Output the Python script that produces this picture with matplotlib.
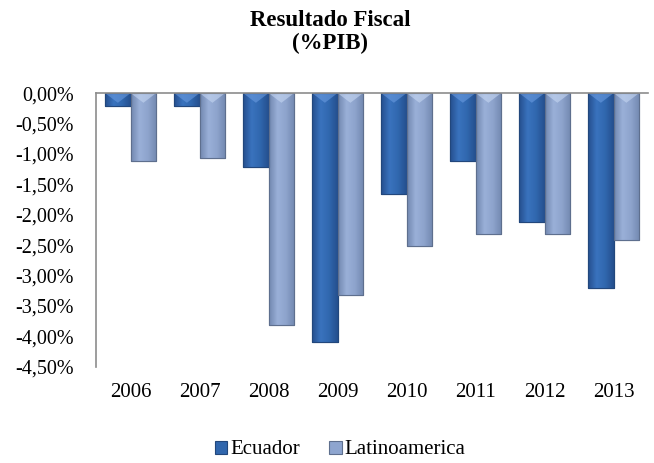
import numpy as np
import matplotlib
matplotlib.use("Agg")
import matplotlib.pyplot as plt
from matplotlib.colors import LinearSegmentedColormap
from matplotlib.patches import Polygon
from matplotlib.ticker import FuncFormatter

years = ["2006", "2007", "2008", "2009", "2010", "2011", "2012", "2013"]
ecuador = [-0.21, -0.21, -1.21, -4.10, -1.66, -1.11, -2.12, -3.21]
latam = [-1.11, -1.06, -3.81, -3.32, -2.51, -2.32, -2.32, -2.41]

plt.rcParams["font.family"] = ["Liberation Serif", "DejaVu Serif"]

fig = plt.figure(figsize=(6.54, 4.63), dpi=100)
ax = fig.add_axes([0.147, 0.208, 0.844, 0.591])

x = np.arange(len(years))
w = 0.37
b1 = ax.bar(x - w / 2, ecuador, w, color="#3066AD", edgecolor="#22477C", linewidth=0.8,
            label="Ecuador", zorder=2)
b2 = ax.bar(x + w / 2, latam, w, color="#8EA5CF", edgecolor="#5E6F8E", linewidth=0.8,
            label="Latinoamerica", zorder=2)

# gradient shading, darker at the sides, plus a light bevel at the top
styles = [(b1, ["#254F8E", "#3A73BE", "#3067AE", "#254F8E"], "#6A9BE0"),
          (b2, ["#7288B0", "#9AB0D8", "#8DA3CC", "#7288B0"], "#C6D7F2")]
grad = np.linspace(0, 1, 64).reshape(1, -1)
for bars, cols, hi in styles:
    cmap = LinearSegmentedColormap.from_list("g", cols)
    for p in bars:
        x0, bw, h = p.get_x(), p.get_width(), p.get_height()
        im = ax.imshow(grad, cmap=cmap, aspect="auto", extent=(x0, x0 + bw, h, 0),
                       zorder=2.1, interpolation="bicubic")
        im.set_clip_path(p)
        tri = Polygon([(x0, 0), (x0 + bw, 0), (x0 + bw / 2, -0.16)], closed=True,
                      facecolor=hi, edgecolor="none", alpha=0.6, zorder=2.2)
        ax.add_patch(tri)
        tri.set_clip_path(p)
        ax.add_patch(Polygon([(x0, h), (x0 + bw, h), (x0 + bw, 0), (x0, 0)], closed=True,
                             facecolor="none", edgecolor=p.get_edgecolor(), linewidth=0.8,
                             zorder=2.3))

ax.set_xlim(-0.5, len(years) - 0.5)
ax.set_ylim(-4.5, 0)
ax.set_yticks(np.arange(0, -4.51, -0.5))
ax.yaxis.set_major_formatter(FuncFormatter(lambda v, p: f"{v:.2f}%".replace(".", ",")))
ax.set_xticks(x)
ax.set_xticklabels(years)
ax.tick_params(axis="both", length=0)
ax.tick_params(axis="y", pad=16, labelsize=14.5)
ax.tick_params(axis="x", pad=12, labelsize=15)

for s in ["right", "bottom"]:
    ax.spines[s].set_visible(False)
for s in ["top", "left"]:
    ax.spines[s].set_color("#8C8C8C")
    ax.spines[s].set_linewidth(1.2)
    ax.spines[s].set_zorder(3)

fig.text(0.505, 0.978, "Resultado Fiscal\n(%PIB)", ha="center", va="top",
         fontsize=16.5, fontweight="bold", linespacing=1.1)

fig.legend(handles=[b1, b2], labels=["Ecuador", "Latinoamerica"], loc="center",
           bbox_to_anchor=(0.52, 1 - 450 / 463), ncol=2, frameon=False, fontsize=15,
           handlelength=0.6, handleheight=0.6, handletextpad=0.15, columnspacing=1.4)

fig.savefig("out.png", dpi=100)
